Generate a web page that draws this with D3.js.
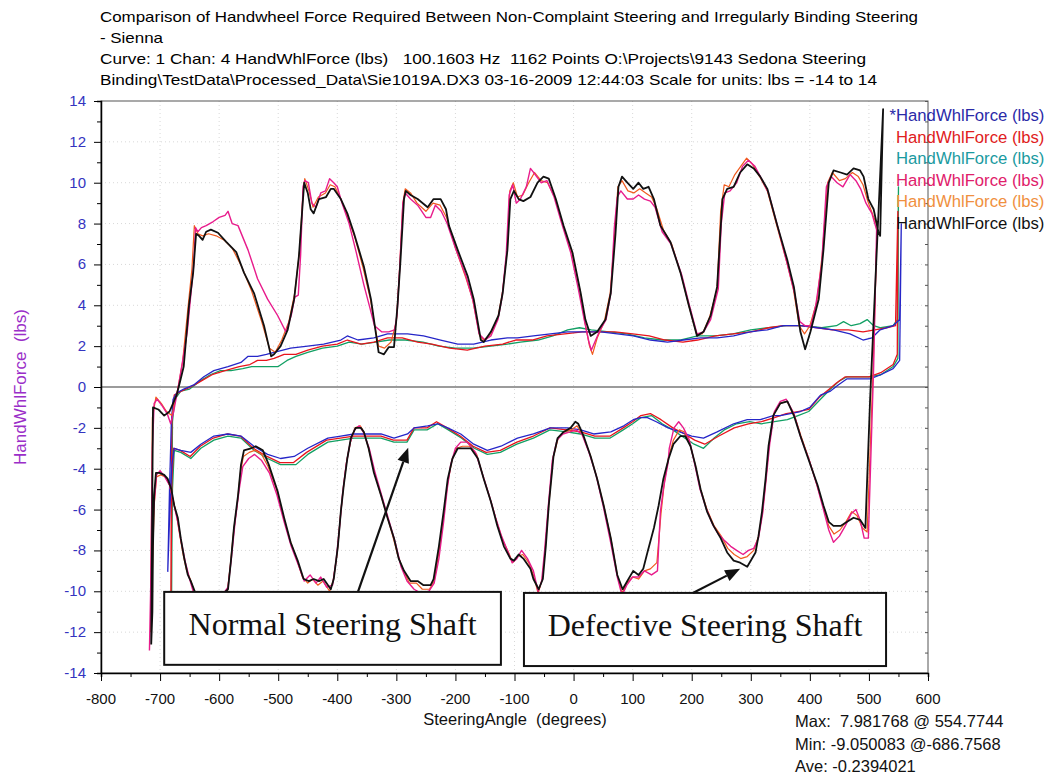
<!DOCTYPE html>
<html>
<head>
<meta charset="utf-8">
<script src="https://cdn.jsdelivr.net/npm/d3@7/dist/d3.min.js"></script>
<style>
body { margin: 0; background: #fff; }
svg text { font-family: "Liberation Sans", Arial, sans-serif; }
</style>
</head>
<body>
<div id="chart"></div>
<script>
const svgWidth = 1050, svgHeight = 774;

// header / text
const titleLines = [
    "Comparison of Handwheel Force Required Between Non-Complaint Steering and Irregularly Binding Steering",
    "- Sienna",
    "Curve: 1 Chan: 4 HandWhlForce (lbs)   100.1603 Hz  1162 Points O:\\Projects\\9143 Sedona Steering",
    "Binding\\TestData\\Processed_Data\\Sie1019A.DX3 03-16-2009 12:44:03 Scale for units: lbs = -14 to 14"
];
const statLines = ["Max:  7.981768 @ 554.7744", "Min: -9.050083 @-686.7568", "Ave: -0.2394021"];
const xTicks = d3.range(-800, 601, 100);
const yTicks = d3.range(-14, 15, 2);
const seriesNames = ["*HandWhlForce (lbs)", "HandWhlForce (lbs)", "HandWhlForce (lbs)",
                     "HandWhlForce (lbs)", "HandWhlForce (lbs)", "HandWhlForce (lbs)"];

// series: [steering angle (deg), force (lbs)] loops
const normalBlue = [[-687,-9.05],[-684,-5.0],[-681,-1.8],[-678,-0.6],[-672,-0.3],[-660,-0.1],[-643,0.1],[-626,0.5],[-609,0.8],[-585,1.0],[-563,1.2],[-551,1.5],[-535,1.5],[-520,1.6],[-507,1.7],[-479,1.9],[-450,2.0],[-423,2.1],[-394,2.3],[-383,2.5],[-365,2.3],[-338,2.4],[-315,2.6],[-281,2.6],[-254,2.5],[-225,2.3],[-196,2.1],[-169,2.1],[-140,2.3],[-112,2.4],[-95,2.4],[-68,2.5],[-39,2.6],[-10,2.7],[17,2.7],[46,2.7],[74,2.6],[101,2.5],[130,2.3],[159,2.2],[186,2.3],[215,2.4],[243,2.4],[271,2.5],[299,2.7],[328,2.8],[355,3.0],[384,3.0],[413,2.9],[440,2.8],[468,2.6],[490,2.3],[505,2.4],[519,2.8],[541,3.0],[552,3.3],[554.8,7.98],[552,1.3],[541,0.9],[520,0.6],[502,0.4],[480,0.4],[463,0.4],[448,0.1],[435,-0.2],[418,-0.4],[400,-1.0],[384,-1.2],[367,-1.3],[350,-1.4],[338,-1.4],[316,-1.6],[294,-1.6],[271,-1.8],[243,-2.2],[220,-2.5],[200,-2.4],[180,-2.2],[160,-2.0],[140,-1.7],[125,-1.5],[113,-1.5],[101,-1.6],[85,-1.9],[63,-2.2],[34,-2.3],[12,-2.1],[-10,-2.0],[-39,-2.0],[-68,-2.3],[-95,-2.5],[-123,-2.9],[-146,-3.1],[-169,-2.8],[-191,-2.3],[-213,-2.0],[-230,-1.8],[-247,-1.9],[-270,-2.0],[-281,-2.3],[-304,-2.5],[-326,-2.3],[-348,-2.3],[-372,-2.3],[-394,-2.4],[-416,-2.5],[-450,-3.0],[-473,-3.4],[-496,-3.5],[-518,-3.3],[-541,-2.9],[-563,-2.4],[-585,-2.3],[-609,-2.4],[-631,-2.8],[-648,-3.2],[-665,-3.1],[-676,-3.0],[-680,-3.8],[-684,-6.5],[-687,-9.05]];

const normalRed = [[-682,-12.5],[-681,-5],[-680,-1.6],[-676,-0.4],[-664,-0.2],[-648,0.0],[-630,0.3],[-612,0.6],[-590,0.8],[-566,1.0],[-548,1.1],[-535,1.3],[-520,1.3],[-507,1.4],[-490,1.6],[-470,1.6],[-450,1.8],[-425,2.0],[-400,2.1],[-383,2.3],[-360,2.1],[-338,2.2],[-315,2.4],[-290,2.4],[-264,2.2],[-240,2.1],[-210,1.9],[-180,1.8],[-150,2.0],[-120,2.1],[-98,2.3],[-70,2.3],[-45,2.5],[-15,2.6],[15,2.7],[40,2.7],[70,2.7],[100,2.6],[128,2.5],[155,2.3],[185,2.2],[210,2.3],[240,2.5],[270,2.6],[300,2.7],[330,2.9],[355,3.0],[385,3.0],[412,2.9],[438,2.8],[465,2.8],[490,2.7],[510,2.8],[530,2.9],[545,3.0],[549,8.6],[548,1.6],[541,1.1],[520,0.7],[500,0.5],[478,0.5],[460,0.5],[445,0.2],[433,-0.1],[416,-0.5],[398,-1.1],[380,-1.2],[360,-1.3],[340,-1.5],[318,-1.7],[296,-1.8],[272,-2.0],[246,-2.4],[222,-2.8],[205,-2.6],[188,-2.3],[168,-2.0],[148,-1.6],[130,-1.3],[114,-1.4],[100,-1.7],[84,-2.0],[62,-2.4],[36,-2.4],[12,-2.2],[-12,-2.1],[-40,-2.0],[-68,-2.4],[-96,-2.7],[-124,-3.1],[-148,-3.2],[-170,-2.9],[-192,-2.4],[-214,-2.0],[-232,-1.7],[-248,-2.0],[-270,-2.0],[-282,-2.6],[-305,-2.6],[-326,-2.4],[-350,-2.4],[-372,-2.4],[-395,-2.5],[-418,-2.6],[-452,-3.2],[-474,-3.7],[-497,-3.7],[-519,-3.4],[-542,-3.0],[-564,-2.4],[-586,-2.3],[-610,-2.5],[-632,-2.9],[-649,-3.4],[-666,-3.1],[-677,-3.0],[-680,-4.5],[-681,-8],[-682,-12.5]];

const normalGreen = [[-681,-12.8],[-680,-6],[-679,-1.7],[-675,-0.6],[-665,-0.2],[-650,-0.1],[-632,0.3],[-615,0.6],[-598,0.8],[-580,0.8],[-560,0.9],[-545,1.0],[-530,1.0],[-515,1.0],[-500,1.0],[-485,1.3],[-470,1.5],[-450,1.7],[-425,1.9],[-400,2.0],[-380,2.2],[-358,2.1],[-335,2.2],[-312,2.3],[-285,2.3],[-255,2.2],[-228,2.0],[-200,1.9],[-170,1.9],[-140,2.0],[-112,2.1],[-90,2.2],[-60,2.3],[-35,2.5],[-10,2.8],[10,2.9],[30,2.8],[60,2.7],[90,2.6],[120,2.4],[150,2.3],[180,2.3],[210,2.5],[240,2.5],[270,2.6],[300,2.8],[330,2.9],[360,3.0],[390,3.0],[420,2.9],[445,3.0],[457,3.2],[470,3.0],[485,3.1],[497,3.3],[508,3.0],[520,2.9],[541,3.0],[548,3.3],[550,9.8],[549,1.4],[541,1.0],[520,0.6],[502,0.5],[483,0.5],[463,0.5],[450,0.3],[435,-0.1],[418,-0.6],[398,-1.2],[380,-1.4],[362,-1.6],[340,-1.7],[318,-1.8],[298,-1.7],[276,-1.8],[255,-2.1],[238,-2.5],[220,-3.0],[204,-2.8],[188,-2.5],[168,-2.1],[150,-1.8],[132,-1.4],[114,-1.5],[100,-1.8],[84,-2.1],[62,-2.5],[36,-2.5],[12,-2.3],[-12,-2.2],[-40,-2.1],[-68,-2.5],[-96,-2.8],[-124,-3.2],[-146,-3.3],[-168,-3.0],[-190,-2.5],[-212,-2.1],[-230,-1.8],[-248,-2.1],[-270,-2.1],[-282,-2.7],[-304,-2.7],[-326,-2.5],[-350,-2.5],[-372,-2.5],[-394,-2.6],[-416,-2.7],[-450,-3.3],[-470,-3.8],[-496,-3.8],[-518,-3.5],[-541,-3.1],[-563,-2.5],[-585,-2.4],[-609,-2.6],[-631,-3.0],[-648,-3.5],[-665,-3.2],[-676,-3.1],[-679,-5],[-680,-8],[-681,-12.8]];

const defectMagenta = [[-718,-12.9],[-716,-10],[-713,-3],[-710,-0.8],[-705,-0.6],[-697,-0.9],[-688,-1.3],[-682,-1.8],[-677,-1.2],[-668,0.2],[-660,1.6],[-654,2.7],[-648,4.5],[-643,6.0],[-640,7.8],[-636,7.6],[-630,7.8],[-622,7.9],[-610,8.1],[-600,8.3],[-590,8.4],[-585,8.6],[-578,8.0],[-568,7.9],[-551,6.7],[-535,5.3],[-518,4.3],[-501,3.5],[-487,2.7],[-478,3.5],[-472,4.4],[-466,4.5],[-462,6.5],[-458,9.8],[-455,10.1],[-449,10.0],[-443,9.0],[-436,8.8],[-428,9.5],[-420,9.6],[-413,10.2],[-406,10.0],[-400,9.8],[-392,9.0],[-380,8.0],[-368,6.6],[-355,5.0],[-345,3.9],[-337,3.0],[-325,2.7],[-313,2.7],[-303,2.8],[-299,3.5],[-294,6.0],[-289,9.0],[-285,9.5],[-276,9.2],[-264,8.9],[-250,8.3],[-242,8.3],[-234,8.9],[-224,8.6],[-214,8.0],[-200,6.8],[-183,5.5],[-170,4.2],[-160,2.6],[-150,2.3],[-140,2.5],[-128,3.3],[-121,4.4],[-114,6.5],[-109,9.4],[-103,9.9],[-97,9.0],[-90,9.2],[-80,9.8],[-73,10.7],[-65,10.4],[-55,10.0],[-45,10.1],[-33,9.3],[-20,8.0],[-5,6.6],[8,4.8],[18,3.3],[26,2.2],[30,1.8],[36,2.2],[45,2.8],[55,3.3],[63,4.6],[69,7.8],[74,9.3],[80,9.6],[91,9.2],[101,9.2],[110,9.4],[120,9.2],[130,9.1],[138,8.8],[150,7.6],[165,7.0],[183,5.5],[196,4.0],[209,2.6],[220,2.7],[232,3.3],[245,4.8],[250,8.0],[256,9.5],[265,9.6],[276,10.0],[286,10.8],[296,11.1],[307,10.8],[318,10.2],[330,9.5],[346,7.8],[362,6.0],[374,4.6],[383,3.2],[392,3.0],[402,3.0],[410,4.0],[420,6.0],[428,9.8],[436,10.3],[446,10.0],[456,9.8],[468,10.4],[478,10.1],[486,9.7],[495,9.0],[505,8.5],[513,7.7],[508,1.0],[499,-7.4],[492,-7.4],[485,-6.5],[478,-6.0],[470,-6.2],[460,-6.8],[450,-7.3],[440,-7.6],[432,-7.0],[423,-6.0],[412,-4.8],[398,-3.5],[385,-2.5],[373,-1.3],[360,-0.6],[350,-0.7],[340,-1.2],[332,-2.8],[326,-4.5],[320,-6.2],[313,-7.4],[305,-7.9],[296,-8.0],[287,-8.2],[276,-8.0],[266,-7.8],[255,-7.5],[245,-7.2],[235,-6.7],[224,-5.9],[214,-5.0],[206,-3.9],[196,-2.6],[186,-2.0],[178,-1.7],[170,-2.0],[162,-3.0],[160,-3.7],[152,-5.0],[147,-6.1],[142,-9.0],[132,-9.2],[120,-9.0],[110,-9.3],[100,-9.3],[90,-9.7],[82,-10.2],[74,-9.3],[62,-7.5],[50,-5.8],[38,-4.3],[26,-3.2],[14,-2.3],[4,-2.1],[-6,-2.2],[-18,-2.3],[-28,-2.6],[-36,-3.6],[-43,-5.9],[-49,-8.0],[-54,-9.5],[-60,-10.0],[-68,-9.0],[-78,-8.4],[-88,-8.0],[-96,-8.4],[-104,-8.6],[-112,-8.0],[-122,-7.3],[-132,-6.4],[-143,-5.3],[-155,-4.2],[-166,-3.2],[-180,-2.7],[-191,-2.7],[-200,-3.0],[-208,-3.8],[-214,-5.0],[-220,-6.6],[-228,-8.4],[-236,-9.6],[-245,-10.0],[-258,-10.1],[-270,-9.9],[-282,-9.5],[-292,-8.8],[-302,-7.6],[-313,-6.5],[-324,-5.4],[-336,-4.2],[-346,-3.0],[-356,-2.2],[-363,-1.9],[-371,-2.1],[-378,-2.7],[-385,-3.8],[-391,-5.2],[-396,-6.8],[-402,-8.5],[-408,-9.7],[-418,-9.8],[-428,-9.3],[-436,-9.6],[-446,-9.2],[-456,-9.5],[-466,-8.7],[-478,-7.8],[-490,-6.6],[-502,-5.3],[-515,-4.2],[-528,-3.6],[-540,-3.3],[-550,-3.5],[-560,-3.9],[-566,-5.0],[-573,-6.6],[-579,-8.3],[-585,-9.8],[-600,-10.4],[-622,-10.5],[-642,-10.2],[-650,-9.4],[-657,-8.6],[-664,-7.6],[-670,-6.6],[-677,-5.7],[-684,-4.8],[-692,-4.4],[-700,-4.1],[-706,-4.3],[-711,-6],[-715,-9.5],[-718,-12.9]];

const defectOrange = [[-716,-12.0],[-713,-1.5],[-707,-0.5],[-698,-0.8],[-689,-1.2],[-680,-1.4],[-670,-0.1],[-662,1.2],[-653,3.8],[-646,5.8],[-642,7.9],[-636,7.5],[-628,7.4],[-618,7.5],[-605,7.4],[-592,7.2],[-578,6.8],[-562,5.9],[-545,4.7],[-528,3.2],[-515,1.9],[-505,1.7],[-494,2.3],[-482,3.2],[-472,4.6],[-464,6.6],[-458,9.5],[-455,10.2],[-448,9.6],[-441,8.8],[-432,9.3],[-420,9.5],[-412,9.9],[-404,9.8],[-394,9.2],[-382,8.3],[-370,7.3],[-356,5.8],[-344,4.3],[-336,2.9],[-330,2.0],[-320,1.9],[-309,2.2],[-300,3.2],[-295,5.5],[-289,9.0],[-285,9.7],[-276,9.5],[-265,9.0],[-250,8.6],[-238,9.0],[-226,8.9],[-215,8.3],[-200,6.8],[-183,5.4],[-171,4.3],[-159,2.5],[-152,2.3],[-140,2.6],[-128,3.4],[-120,4.7],[-112,6.8],[-108,9.6],[-102,10.0],[-95,9.3],[-86,9.4],[-76,10.0],[-66,10.5],[-55,10.1],[-44,10.0],[-32,9.3],[-18,7.9],[-3,6.6],[11,4.7],[19,3.2],[27,2.0],[32,1.6],[40,2.4],[52,3.2],[62,4.6],[70,7.6],[75,9.8],[82,10.1],[92,9.6],[102,9.5],[112,9.7],[122,9.5],[132,9.3],[140,8.8],[152,7.7],[166,7.0],[182,5.5],[195,4.0],[208,2.6],[218,2.6],[230,3.4],[243,4.8],[249,8.6],[255,9.9],[263,9.8],[273,10.4],[283,10.8],[293,11.2],[303,10.9],[315,10.3],[328,9.6],[344,7.9],[361,6.1],[372,4.8],[382,3.0],[391,2.6],[400,3.0],[412,4.2],[421,6.5],[430,10.0],[438,10.5],[450,10.1],[460,10.2],[472,10.5],[482,10.3],[490,9.9],[498,9.1],[507,8.4],[514,7.9],[507,0.8],[497,-7.1],[489,-6.9],[480,-6.3],[471,-6.1],[461,-6.6],[451,-7.0],[441,-7.2],[432,-6.8],[423,-5.9],[412,-4.8],[397,-3.4],[385,-2.4],[373,-1.3],[361,-0.7],[350,-0.8],[339,-1.3],[331,-2.8],[326,-4.4],[320,-6.1],[313,-7.3],[305,-8.0],[294,-8.3],[283,-8.4],[272,-8.2],[261,-7.9],[250,-7.3],[238,-6.8],[226,-6.0],[215,-5.0],[206,-3.8],[197,-2.8],[188,-2.2],[179,-2.1],[169,-2.6],[161,-3.4],[154,-4.6],[148,-6.2],[141,-8.6],[130,-8.9],[120,-9.0],[110,-9.4],[100,-9.3],[90,-9.6],[82,-10.1],[74,-9.2],[63,-7.4],[51,-5.8],[39,-4.4],[28,-3.3],[16,-2.4],[6,-1.9],[-4,-2.1],[-16,-2.2],[-26,-2.5],[-35,-3.5],[-42,-5.8],[-48,-7.9],[-53,-9.4],[-60,-10.1],[-68,-9.2],[-76,-8.6],[-86,-8.2],[-95,-8.3],[-103,-8.6],[-110,-8.1],[-120,-7.5],[-130,-6.6],[-141,-5.5],[-153,-4.4],[-164,-3.3],[-176,-2.9],[-188,-2.9],[-198,-3.0],[-206,-3.6],[-213,-4.7],[-220,-6.3],[-228,-8.1],[-236,-9.5],[-244,-9.9],[-256,-9.9],[-266,-9.6],[-278,-9.6],[-288,-9.0],[-298,-8.2],[-306,-7.3],[-316,-6.3],[-327,-5.2],[-338,-4.1],[-347,-3.0],[-355,-2.2],[-361,-1.9],[-370,-2.0],[-377,-2.6],[-384,-3.6],[-390,-5.0],[-395,-6.4],[-400,-8.1],[-407,-9.5],[-413,-10.0],[-424,-9.5],[-433,-9.7],[-442,-9.4],[-450,-9.6],[-459,-9.3],[-468,-8.5],[-480,-7.5],[-492,-6.3],[-503,-5.0],[-517,-3.9],[-528,-3.3],[-540,-3.1],[-549,-3.2],[-559,-3.4],[-564,-4.2],[-569,-5.6],[-576,-7.2],[-581,-8.7],[-586,-10.0],[-602,-10.4],[-621,-10.4],[-641,-10.1],[-649,-9.4],[-655,-9.0],[-661,-8.2],[-667,-7.2],[-672,-6.3],[-678,-5.5],[-684,-4.8],[-691,-4.4],[-699,-4.3],[-706,-4.4],[-710,-5.8],[-713,-9],[-716,-12.0]];

const defectBlack = [[-715,-12.6],[-712,-1.0],[-703,-1.1],[-693,-1.4],[-684,-1.2],[-672,-0.4],[-665,0.4],[-660,1.0],[-651,4.0],[-644,5.6],[-639,7.5],[-634,7.4],[-628,7.2],[-622,7.6],[-614,7.7],[-602,7.55],[-588,7.1],[-571,6.6],[-558,5.6],[-541,4.6],[-524,3.0],[-512,1.5],[-507,1.6],[-496,2.0],[-484,2.8],[-473,4.3],[-465,6.4],[-458,9.2],[-456,10.0],[-450,9.5],[-445,8.7],[-440,8.5],[-431,9.2],[-419,9.3],[-411,9.7],[-406,9.7],[-394,9.2],[-383,8.5],[-372,7.55],[-355,5.9],[-343,4.3],[-335,2.7],[-330,1.7],[-321,1.6],[-313,1.95],[-304,1.95],[-298,4.0],[-293,6.2],[-287,9.2],[-284,9.6],[-276,9.4],[-264,9.2],[-247,8.8],[-237,9.2],[-225,9.2],[-216,8.7],[-211,7.9],[-196,6.7],[-179,5.4],[-169,4.3],[-157,2.3],[-152,2.2],[-140,2.7],[-127,3.5],[-120,4.6],[-112,6.7],[-107,9.2],[-101,9.6],[-93,9.2],[-85,9.1],[-73,9.3],[-61,10.0],[-51,10.3],[-42,10.2],[-30,9.2],[-17,7.9],[-2,6.6],[12,4.6],[20,3.3],[29,2.5],[40,2.7],[54,3.3],[63,4.6],[71,7.5],[76,9.8],[82,10.3],[91,10.0],[101,9.7],[110,10.0],[118,9.7],[127,9.8],[136,9.2],[147,7.9],[164,7.1],[181,5.6],[195,4.0],[209,2.5],[220,2.7],[232,3.5],[243,4.9],[252,9.2],[260,9.7],[271,9.8],[282,10.5],[294,10.9],[305,10.7],[316,10.3],[328,9.7],[345,7.9],[362,6.2],[373,4.9],[384,2.7],[392,1.85],[401,2.7],[415,4.3],[423,6.7],[432,10.0],[440,10.6],[452,10.5],[463,10.4],[474,10.7],[485,10.6],[491,10.3],[499,9.2],[508,8.7],[516,7.6],[519,7.4],[524,13.6],[502,-0.6],[494,-6.9],[485,-6.5],[474,-6.4],[463,-6.6],[452,-6.8],[440,-6.8],[432,-6.6],[423,-5.8],[413,-4.8],[396,-3.4],[384,-2.4],[373,-1.4],[362,-0.7],[350,-0.8],[338,-1.4],[330,-2.9],[325,-4.5],[319,-6.1],[313,-7.3],[308,-8.1],[294,-8.8],[282,-8.6],[271,-8.5],[260,-8.1],[249,-7.4],[237,-6.8],[226,-6.1],[215,-5.0],[206,-3.8],[198,-2.9],[189,-2.4],[181,-2.4],[169,-2.8],[161,-3.5],[152,-4.5],[144,-5.8],[136,-6.9],[125,-8.1],[118,-8.9],[110,-9.2],[101,-9.0],[91,-9.5],[83,-9.9],[74,-9.2],[63,-7.4],[51,-5.8],[40,-4.5],[29,-3.4],[17,-2.4],[8,-1.8],[3,-1.7],[-5,-2.0],[-17,-2.2],[-27,-2.5],[-34,-3.4],[-42,-5.8],[-47,-7.8],[-52,-9.4],[-59,-9.9],[-68,-9.4],[-73,-8.9],[-85,-8.4],[-93,-8.2],[-101,-8.5],[-107,-8.4],[-118,-7.8],[-129,-6.8],[-140,-5.6],[-152,-4.5],[-162,-3.5],[-174,-3.0],[-186,-3.0],[-196,-3.0],[-205,-3.5],[-213,-4.5],[-220,-6.1],[-228,-7.8],[-237,-9.4],[-242,-9.7],[-254,-9.7],[-264,-9.5],[-276,-9.5],[-287,-9.0],[-296,-8.4],[-304,-7.4],[-315,-6.4],[-326,-5.3],[-338,-4.2],[-347,-3.0],[-355,-2.2],[-360,-2.0],[-369,-2.0],[-377,-2.5],[-383,-3.5],[-389,-4.8],[-394,-6.1],[-399,-7.8],[-406,-9.4],[-411,-9.9],[-423,-9.4],[-431,-9.5],[-440,-9.4],[-448,-9.5],[-457,-9.4],[-467,-8.5],[-479,-7.6],[-490,-6.4],[-501,-5.1],[-516,-3.8],[-526,-3.1],[-538,-2.9],[-546,-3.0],[-558,-3.1],[-563,-3.8],[-568,-5.3],[-575,-6.9],[-580,-8.5],[-585,-9.9],[-600,-10.3],[-620,-10.4],[-640,-10.1],[-648,-9.5],[-653,-9.2],[-659,-8.4],[-665,-7.4],[-670,-6.4],[-676,-5.8],[-681,-5.0],[-687,-4.5],[-693,-4.3],[-701,-4.2],[-707,-4.2],[-710,-5.3],[-712,-7.8],[-713,-11],[-715,-12.6]];

const series = [
    {name: seriesNames[0], values: normalBlue,    color: "#2626c8", legend: "#2a2aa8", width: 1.3},
    {name: seriesNames[1], values: normalRed,     color: "#e8141c", legend: "#e02020", width: 1.3},
    {name: seriesNames[2], values: normalGreen,   color: "#12a064", legend: "#1a9aa0", width: 1.3},
    {name: seriesNames[3], values: defectMagenta, color: "#e81c8c", legend: "#e0206a", width: 1.4},
    {name: seriesNames[4], values: defectOrange,  color: "#f05a1e", legend: "#f09040", width: 1.2},
    {name: seriesNames[5], values: defectBlack,   color: "#111111", legend: "#111111", width: 1.8}
];

// annotation boxes, in data units
const notes = [
    {text: "Normal Steering Shaft",    x0: -693, x1: -123, y0: -10.03, y1: -13.6,  from: [-365, -10.03], to: [-280, -2.97]},
    {text: "Defective Steering Shaft", x0: -84,  x1: 529,  y0: -10.08, y1: -13.66, from: [202, -10.08],  to: [282, -8.9]}
];

const svg = d3.select('#chart')
    .append('svg')
    .attr('width', svgWidth)
    .attr('height', svgHeight);

const xScale = d3.scaleLinear().domain([-800, 600]).range([101, 928]);
const yScale = d3.scaleLinear().domain([-14, 14]).range([673, 101]);

// title lines
const titleWidths = [818, 63, 766, 777];
svg.selectAll('text.title')
    .data(titleLines)
    .join('text')
    .attr('class', 'title')
    .attr('x', 100)
    .attr('y', (d, i) => 22 + i * 21)
    .attr('font-size', 15)
    .attr('textLength', (d, i) => titleWidths[i])
    .attr('lengthAdjust', 'spacingAndGlyphs')
    .style('white-space', 'pre')
    .text(d => d);

// grid
const grid = svg.append('g');
grid.selectAll('line.vg')
    .data(xTicks.slice(1, -1))
    .join('line')
    .attr('x1', d => xScale(d)).attr('x2', d => xScale(d))
    .attr('y1', yScale(14)).attr('y2', yScale(-14))
    .attr('stroke', '#d8d8d8').attr('stroke-dasharray', '1,3');
grid.selectAll('line.hg')
    .data(yTicks.slice(1, -1).filter(d => d !== 0))
    .join('line')
    .attr('y1', d => yScale(d)).attr('y2', d => yScale(d))
    .attr('x1', xScale(-800)).attr('x2', xScale(600))
    .attr('stroke', '#d8d8d8').attr('stroke-dasharray', '1,3');

// zero line
svg.append('line')
    .attr('x1', xScale(-800)).attr('x2', xScale(600))
    .attr('y1', yScale(0)).attr('y2', yScale(0))
    .attr('stroke', '#7a7a7a').attr('stroke-width', 1.5);

// curves
svg.append('clipPath').attr('id', 'plotclip')
    .append('rect')
    .attr('x', xScale(-800)).attr('y', yScale(14))
    .attr('width', xScale(600) - xScale(-800))
    .attr('height', yScale(-14) - yScale(14));

const line = d3.line()
    .x(d => xScale(d[0]))
    .y(d => yScale(d[1]));

const drawOrder = [2, 1, 0, 4, 3, 5];
svg.append('g')
    .attr('clip-path', 'url(#plotclip)')
    .selectAll('path')
    .data(drawOrder.map(i => series[i]))
    .join('path')
    .attr('d', d => line(d.values))
    .attr('fill', 'none')
    .attr('stroke', d => d.color)
    .attr('stroke-width', d => d.width)
    .attr('stroke-linejoin', 'round');

// frame
svg.append('rect')
    .attr('x', xScale(-800)).attr('y', yScale(14))
    .attr('width', xScale(600) - xScale(-800))
    .attr('height', yScale(-14) - yScale(14))
    .attr('fill', 'none').attr('stroke', '#555').attr('stroke-width', 1);

// right border ticks
svg.append('g')
    .attr('transform', `translate(${xScale(600)},0)`)
    .call(d3.axisRight(yScale).tickValues(d3.range(-14, 15, 1)).tickSize(-3).tickFormat(''))
    .call(g => g.select('.domain').remove())
    .call(g => g.selectAll('.tick line').attr('stroke', '#555'));

// axes
const xAxis = svg.append('g')
    .attr('transform', `translate(0,${yScale(-14)})`);
xAxis.call(d3.axisBottom(xScale).tickValues(d3.range(-800, 601, 50)).tickSize(4).tickFormat(''))
    .call(g => g.select('.domain').attr('stroke-width', 1.5));
xAxis.call(g => g.selectAll('.tick line').filter(d => d % 100 === 0).attr('y2', 8));
xAxis.selectAll('text.xl')
    .data(xTicks)
    .join('text')
    .attr('class', 'xl')
    .attr('x', d => xScale(d))
    .attr('y', 31)
    .attr('text-anchor', 'middle')
    .attr('font-size', 15)
    .attr('fill', '#111')
    .text(d => d);

const yAxis = svg.append('g')
    .attr('transform', `translate(${xScale(-800)},0)`);
yAxis.call(d3.axisLeft(yScale).tickValues(d3.range(-14, 15, 1)).tickSize(4).tickFormat(''))
    .call(g => g.select('.domain').attr('stroke-width', 1.5));
yAxis.call(g => g.selectAll('.tick line').filter(d => d % 2 === 0).attr('x2', -7));
yAxis.selectAll('text.yl')
    .data(yTicks)
    .join('text')
    .attr('class', 'yl')
    .attr('x', -15)
    .attr('y', d => yScale(d) + 5)
    .attr('text-anchor', 'end')
    .attr('font-size', 15)
    .attr('fill', '#3434c0')
    .text(d => d);

// axis titles
svg.append('text')
    .attr('transform', `translate(26,${yScale(0)}) rotate(-90)`)
    .attr('text-anchor', 'middle')
    .attr('font-size', 17)
    .attr('fill', '#9a2ec8')
    .style('white-space', 'pre')
    .text('HandWhlForce  (lbs)');

svg.append('text')
    .attr('x', 515).attr('y', 725)
    .attr('text-anchor', 'middle')
    .attr('font-size', 16.5)
    .attr('fill', '#111')
    .style('white-space', 'pre')
    .text('SteeringAngle  (degrees)');

// legend
const legend = svg.append('g');
legend.selectAll('text')
    .data(series)
    .join('text')
    .attr('x', 896)
    .attr('y', (d, i) => 121 + i * 21.5)
    .attr('font-size', 16.7)
    .attr('fill', d => d.legend)
    .text(d => d.name.replace('*', ''));
legend.append('text')
    .attr('x', 896).attr('y', 121)
    .attr('text-anchor', 'end')
    .attr('font-size', 16.7)
    .attr('fill', series[0].legend)
    .text('*');

// stats
svg.selectAll('text.stat')
    .data(statLines)
    .join('text')
    .attr('class', 'stat')
    .attr('x', 795)
    .attr('y', (d, i) => 727 + i * 22.5)
    .attr('font-size', 16.5)
    .attr('fill', '#111')
    .style('white-space', 'pre')
    .text(d => d);

// annotations
notes.forEach(n => {
    const g = svg.append('g');
    g.append('rect')
        .attr('x', xScale(n.x0)).attr('y', yScale(n.y0))
        .attr('width', xScale(n.x1) - xScale(n.x0))
        .attr('height', yScale(n.y1) - yScale(n.y0))
        .attr('fill', '#fff').attr('stroke', '#111').attr('stroke-width', 2);
    g.append('text')
        .attr('x', (xScale(n.x0) + xScale(n.x1)) / 2)
        .attr('y', (yScale(n.y0) + yScale(n.y1)) / 2 + 7)
        .attr('text-anchor', 'middle')
        .attr('font-size', 32)
        .style('font-family', '"Liberation Serif", "Times New Roman", serif')
        .attr('fill', '#111')
        .text(n.text);

    const x1 = xScale(n.from[0]), y1 = yScale(n.from[1]);
    const x2 = xScale(n.to[0]), y2 = yScale(n.to[1]);
    const ang = Math.atan2(y2 - y1, x2 - x1);
    const len = 15, half = 6;
    const bx = x2 - len * Math.cos(ang), by = y2 - len * Math.sin(ang);
    g.append('line')
        .attr('x1', x1).attr('y1', y1).attr('x2', bx).attr('y2', by)
        .attr('stroke', '#111').attr('stroke-width', 2.2);
    g.append('path')
        .attr('d', `M${x2},${y2}L${bx + half * Math.sin(ang)},${by - half * Math.cos(ang)}L${bx - half * Math.sin(ang)},${by + half * Math.cos(ang)}Z`)
        .attr('fill', '#111');
});
</script>
</body>
</html>
